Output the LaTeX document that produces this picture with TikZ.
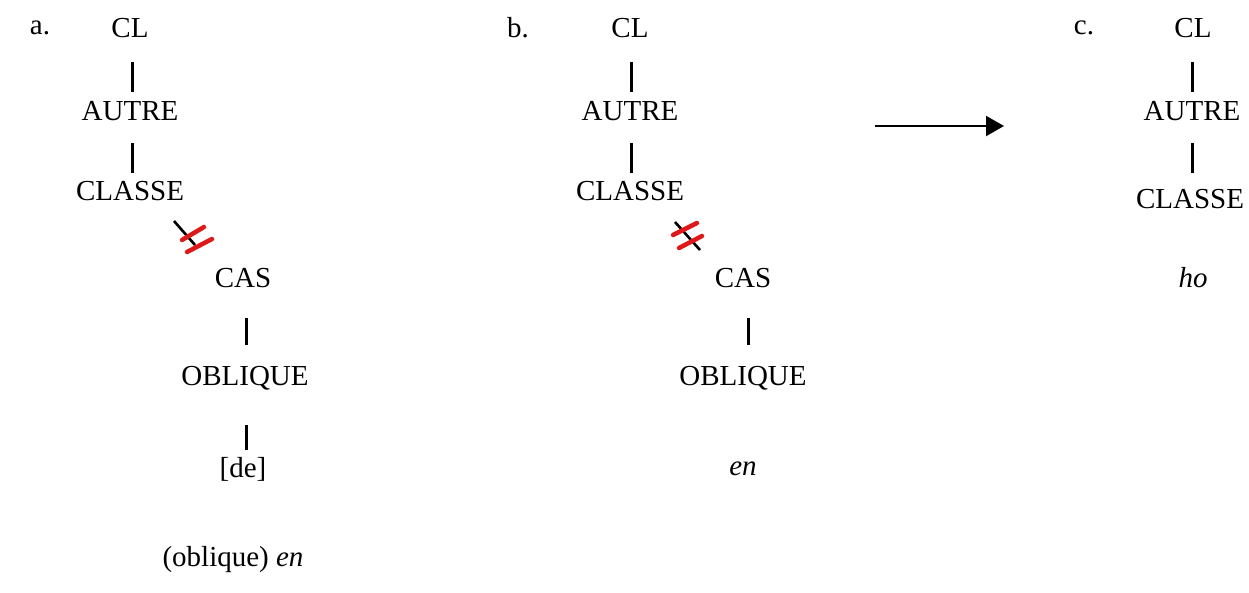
\documentclass[tikz,border=0pt]{standalone}
\usepackage{fontspec}
\setmainfont{Liberation Serif}
\usetikzlibrary{arrows.meta,calc}
\begin{document}
\begin{tikzpicture}[x=1pt,y=-1pt,
  lab/.style={inner sep=0pt,font=\fontsize{29}{34}\selectfont},
  branch/.style={line width=3pt,black},
  strike/.style={line width=2.6pt,black},
  redbar/.style={line width=4.5pt,red!85!black!90,line cap=round},
  shift arrow/.style={line width=2.2pt,-{Triangle[length=18pt,width=20pt]}}]
\useasboundingbox (0,0) rectangle (1249,592);
% --- a ---
\node[lab] (la) at (40,28) {a.};
\node[lab] (a1) at (130,28) {CL};
\node[lab] (a2) at (130,111) {AUTRE};
\node[lab] (a3) at (130,191) {CLASSE};
\node[lab] (a4) at (243,278) {CAS};
\node[lab] (a5) at (245,378) {OBLIQUE};
\node[lab] (a6) at (243,469) {[de]};
\node[lab] (a7) at (233,560) {(oblique) \textit{en}};
\draw[branch,shorten <=34pt,shorten >=19pt] ([xshift=2pt]a1.center) -- ([xshift=2pt]a2.center);
\draw[branch,shorten <=32pt,shorten >=18pt] ([xshift=2pt]a2.center) -- ([xshift=2pt]a3.center);
\draw[branch,shorten <=40pt,shorten >=33pt] ([xshift=3pt]a4.center) -- ([xshift=1pt]a5.center);
\draw[branch,shorten <=47pt,shorten >=19pt] ([xshift=1pt]a5.center) -- ([xshift=3pt]a6.center);
\coordinate (xa) at (0,0);
\draw[strike] (174,221) -- (195,245);
\draw[redbar] (182,240) -- (204,227);
\draw[redbar] (187,252) -- (212,239);
% --- b ---
\node[lab] (lb) at (518,28) {b.};
\node[lab] (b1) at (630,28) {CL};
\node[lab] (b2) at (630,111) {AUTRE};
\node[lab] (b3) at (630,191) {CLASSE};
\node[lab] (b4) at (743,278) {CAS};
\node[lab] (b5) at (743,378) {OBLIQUE};
\node[lab] (b6) at (743,469) {\textit{en}};
\draw[branch,shorten <=34pt,shorten >=19pt] ([xshift=1pt]b1.center) -- ([xshift=1pt]b2.center);
\draw[branch,shorten <=32pt,shorten >=18pt] ([xshift=1pt]b2.center) -- ([xshift=1pt]b3.center);
\draw[branch,shorten <=40pt,shorten >=33pt] ([xshift=5pt]b4.center) -- ([xshift=5pt]b5.center);
\draw[strike] (675,222) -- (700,250);
\draw[redbar] (673,235) -- (697,223);
\draw[redbar] (679,248) -- (702,236);
% --- arrow ---
\coordinate (arS) at (875,126);
\coordinate (arE) at (1004,126);
\draw[shift arrow] (arS) -- (arE);
% --- c ---
\node[lab] (lc) at (1084,28) {c.};
\node[lab] (c1) at (1193,28) {CL};
\node[lab] (c2) at (1192,111) {AUTRE};
\node[lab] (c3) at (1190,199) {CLASSE};
\node[lab] (c4) at (1193,278) {\textit{ho}};
\draw[branch,shorten <=34pt,shorten >=19pt] ([xshift=-1pt]c1.center) -- (c2.center);
\draw[branch,shorten <=32pt,shorten >=26pt] (c2.center) -- ([xshift=2pt]c3.center);
\end{tikzpicture}
\end{document}
